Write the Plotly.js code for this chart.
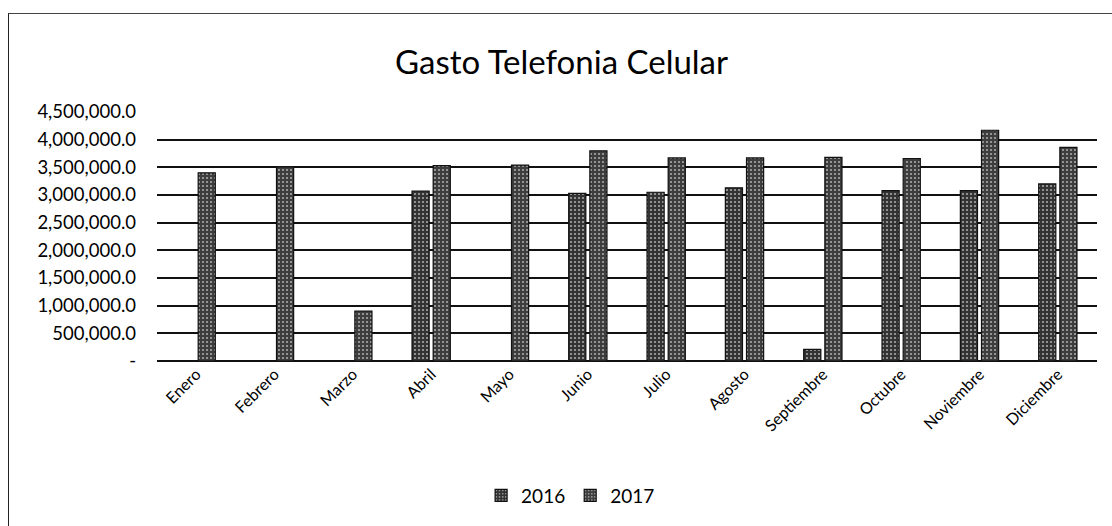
<!DOCTYPE html>
<html>
<head>
<meta charset="utf-8">
<script src="https://cdn.plot.ly/plotly-3.0.1.min.js"></script>
<style>
  html, body { margin: 0; padding: 0; background: #fff; }
  #frame { position: absolute; left: 8px; top: 13px; width: 1110px; height: 520px;
           border-left: 1px solid #222; border-top: 1px solid #444; }
  #chart { position: absolute; left: 0; top: 0; width: 1112px; height: 526px; }
</style>
</head>
<body>
<div id="frame"></div>
<div id="chart"></div>
<script>
const months = ["Enero","Febrero","Marzo","Abril","Mayo","Junio","Julio","Agosto","Septiembre","Octubre","Noviembre","Diciembre"];
const gasto2016 = [null, null, null, 3070000, null, 3030000, 3050000, 3130000, 210000, 3080000, 3080000, 3200000];
const gasto2017 = [3400000, 3510000, 900000, 3530000, 3540000, 3800000, 3670000, 3670000, 3680000, 3660000, 4170000, 3860000];
const yTickVals = [0, 500000, 1000000, 1500000, 2000000, 2500000, 3000000, 3500000, 4000000, 4500000];
const yTickText = ["-", "500,000.0", "1,000,000.0", "1,500,000.0", "2,000,000.0", "2,500,000.0", "3,000,000.0", "3,500,000.0", "4,000,000.0", "4,500,000.0"];

const barStyle = (bg) => ({
  color: bg,
  line: { color: "#111", width: 1.2 },
  pattern: { shape: ".", fgcolor: "#a8a8a8", bgcolor: bg, size: 4, solidity: 0.22 }
});

const traces = [
  { type: "bar", name: "2016", x: months, y: gasto2016, marker: barStyle("#333333") },
  { type: "bar", name: "2017", x: months, y: gasto2017, marker: barStyle("#3d3d3d") }
];

const layout = {
  width: 1112, height: 526,
  paper_bgcolor: "rgba(0,0,0,0)", plot_bgcolor: "#fff",
  margin: { l: 157, r: 15, t: 112, b: 165 },
  font: { family: "Lato, 'Open Sans', sans-serif", color: "#000" },
  title: { text: "Gasto Telefonia Celular", x: 0.505, xref: "container", xanchor: "center", y: 0.882, yanchor: "middle",
           font: { family: "Lato, 'Open Sans', sans-serif", size: 33, color: "#000" } },
  barmode: "group", bargap: 0.46, bargroupgap: 0.19,
  showlegend: true,
  legend: { orientation: "h", x: 0.44, xanchor: "center", y: -0.54, yanchor: "middle",
            font: { size: 19, color: "#000" }, itemwidth: 30, traceorder: "normal" },
  xaxis: { type: "category", tickangle: -45, tickfont: { size: 16, color: "#000" },
           showgrid: false, showline: false, ticks: "", automargin: false },
  yaxis: { range: [0, 4500000], tickmode: "array", tickvals: yTickVals, ticktext: yTickText,
           tickfont: { size: 18.5, color: "#000" }, ticklabelstandoff: 20,
           showgrid: true, gridcolor: "#111", gridwidth: 2,
           zeroline: true, zerolinecolor: "#111", zerolinewidth: 2, showline: false, ticks: "", automargin: false }
};

Plotly.newPlot("chart", traces, layout, { displayModeBar: false, staticPlot: true });
</script>
</body>
</html>
